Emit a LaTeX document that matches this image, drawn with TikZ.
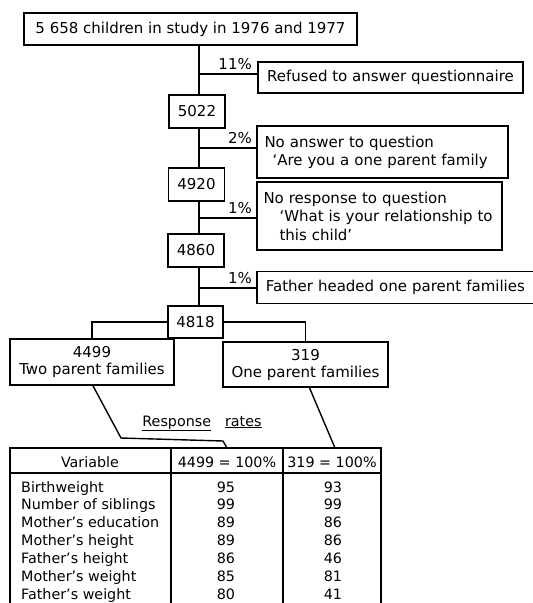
\documentclass[tikz,border=0pt]{standalone}
\usepackage{fontspec}
\setmainfont{DejaVu Sans}
\newcommand\fsA{\fontsize{15}{18}\selectfont}
\newcommand\fsB{\fontsize{14.3}{18}\selectfont}
\begin{document}
\begin{tikzpicture}[x=1pt,y=-1pt,
  box/.style={draw, line width=1.6pt, fill=white, inner sep=0pt, font=\fsA},
  numbox/.style={box, minimum width=56pt, minimum height=33pt},
  pct/.style={anchor=east, font=\fsA, inner sep=0pt},
  conn/.style={line width=1.6pt},
  tab/.style={line width=2.2pt},
  cell/.style={anchor=base, font=\fsB, inner sep=0pt},
  lcell/.style={anchor=base west, font=\fsB, inner sep=0pt}]
\useasboundingbox (0,0) rectangle (533,603);

% flow boxes
\node[box, minimum width=333pt, minimum height=32pt] (top) at (190.5,29) {5 658 children in study in 1976 and 1977};
\node[box, minimum width=265pt, minimum height=31pt] (refused) at (390.5,77.5) {Refused to answer questionnaire};
\node[numbox] (n5022) at (197,111.5) {5022};
\node[box, minimum width=251pt, minimum height=52pt, text width=236pt, align=left] (noans) at (382.5,152)
  {No answer to question\\\hspace*{8pt}‘Are you a one parent family};
\node[numbox] (n4920) at (196.5,184.5) {4920};
\node[box, minimum width=245pt, minimum height=68pt, text width=232pt, align=left, font=\fontsize{15}{18.5}\selectfont] (noresp) at (379.5,216)
  {No response to question\\\hspace*{16pt}‘What is your relationship to\\\hspace*{16pt}this child’};
\node[numbox] (n4860) at (196,250.5) {4860};
\node[box, anchor=west, minimum height=32pt, inner xsep=9pt, text width=280pt, align=left] (father) at (256,287.5)
  {Father headed one parent families};
\node[numbox, minimum width=55pt, minimum height=32pt] (n4818) at (195.5,322) {4818};
\node[box, minimum width=164pt, minimum height=46pt, align=center, font=\fontsize{15}{17}\selectfont] (two) at (92,362)
  {4499\\Two parent families};
\node[box, minimum width=165pt, minimum height=45pt, align=center, font=\fontsize{15}{17}\selectfont] (one) at (305.5,364.5)
  {319\\One parent families};

% percentages
\node[pct] (p1) at (252,64) {11\%};
\node[pct] (p2) at (252,138) {2\%};
\node[pct] (p3) at (252,208) {1\%};
\node[pct] (p4) at (252,278) {1\%};

% trunk
\coordinate (tr) at (199,0);
\draw[conn] (top.south -| tr) -- (n5022.north -| tr);
\draw[conn] (n5022.south -| tr) -- (n4920.north -| tr);
\draw[conn] (n4920.south -| tr) -- (n4860.north -| tr);
\draw[conn] (n4860.south -| tr) -- (n4818.north -| tr);
% branches
\coordinate (b1) at (0,74);
\coordinate (b2) at (0,148);
\coordinate (b3) at (0,218);
\coordinate (b4) at (0,288);
\draw[conn] (tr |- b1) -- (refused.west |- b1);
\draw[conn] (tr |- b2) -- (noans.west |- b2);
\draw[conn] (tr |- b3) -- (noresp.west |- b3);
\draw[conn] (tr |- b4) -- (father.west |- b4);
% split
\draw[conn] (n4818.west) -| (two.north);
\draw[conn] (n4818.east) -| (one.north);

% leaders to table
\coordinate (d1) at (121,438);
\coordinate (d2) at (223,441);
\coordinate (d3) at (227,448);
\coordinate (d4) at (335,448);
\draw[line width=1.4pt] ([xshift=1pt]two.south) -- (d1) -- (d2) -- (d3);
\draw[line width=1.4pt] ([xshift=4pt]one.south) -- (d4);

\node[anchor=base, font=\fsB, inner sep=0pt] (resp) at (202,426) {\underline{Response}\hspace{14pt}\underline{rates}};

% table
\draw[tab] (10,603) -- (10,448) -- (381,448) -- (381,603);
\draw[tab] (10,473) -- (381,473);
\draw[tab] (171,448) -- (171,603);
\draw[tab] (283,448) -- (283,603);

\node[cell] (h1) at (90,467) {Variable};
\node[cell] (h2) at (227,467) {4499 = 100\%};
\node[cell] (h3) at (332,467) {319 = 100\%};

\node[lcell] (r1) at (21,492) {Birthweight};
\node[lcell] (r2) at (21,509.8) {Number of siblings};
\node[lcell] (r3) at (21,527.7) {Mother’s education};
\node[lcell] (r4) at (21,545.5) {Mother’s height};
\node[lcell] (r5) at (21,563.3) {Father’s height};
\node[lcell] (r6) at (21,581.2) {Mother’s weight};
\node[lcell] (r7) at (21,599) {Father’s weight};

\node[cell] (a1) at (226,492) {95};
\node[cell] (a2) at (226,509.8) {99};
\node[cell] (a3) at (226,527.7) {89};
\node[cell] (a4) at (226,545.5) {89};
\node[cell] (a5) at (226,563.3) {86};
\node[cell] (a6) at (226,581.2) {85};
\node[cell] (a7) at (226,599) {80};

\node[cell] (c1) at (333,492) {93};
\node[cell] (c2) at (333,509.8) {99};
\node[cell] (c3) at (333,527.7) {86};
\node[cell] (c4) at (333,545.5) {86};
\node[cell] (c5) at (333,563.3) {46};
\node[cell] (c6) at (333,581.2) {81};
\node[cell] (c7) at (333,599) {41};
\end{tikzpicture}
\end{document}
